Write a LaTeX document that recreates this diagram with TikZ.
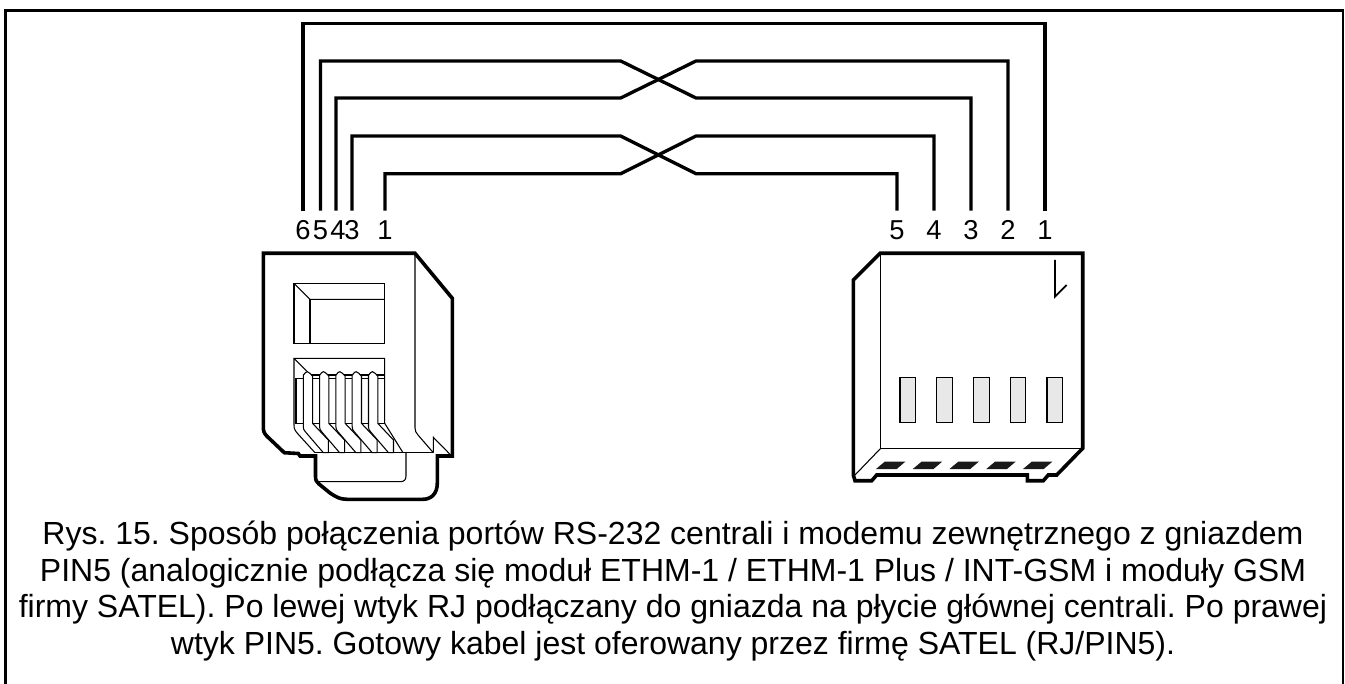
\documentclass[tikz,border=0pt]{standalone}
\usepackage{fontspec}
\setmainfont{Liberation Sans}
\usetikzlibrary{positioning}
\frenchspacing

\begin{document}
\begin{tikzpicture}
		[x=.75pt,y=-.75pt,
		wire/.style={draw,line width=2.5pt},
		frame line/.style={draw,line width=1.6pt},
		thick line/.style={draw,line width=2.7pt,line join=miter},
		thin line/.style={draw,line width=.8pt},
		pin label/.style={inner sep=0pt,text height=14.2pt,text depth=0pt,minimum height=28.5pt,font=\fontsize{20.5}{21}\selectfont},
		slot/.style={shape=rectangle,draw,line width=.8pt,fill=black!9,inner sep=0pt,minimum width=11.7pt,minimum height=33.5pt},
		caption/.style={inner sep=0pt,align=center,font=\fontsize{24}{27.5}\selectfont},
		contact/.pic={
			\draw[thin line,fill=white] (-4,55) -- (-4,3.5) .. controls (-2.5,1) and (-1,0) .. (0,0) .. controls (2,0) and (3.5,3) .. (5.3,4.5) -- (5.3,51.7) -- (21,68.3) -- (21,81) -- (16,81) -- (-2,60) .. controls (-3.5,58.5) and (-4,57) .. (-4,55) -- cycle;
		},
		pad/.pic={
			\fill[black!90] (0,7.3) -- (20.7,7.3) -- (29.3,0) -- (8.7,0) -- cycle;
		}
		]
		
		\useasboundingbox (0,0) rectangle (1345,684);
		
		\draw[frame line] (5.5,684) -- (5.5,10.5) -- (1343,10.5) -- (1343,684);
		
		\node [pin label] (l6) at (303,230) {6};
		\node [pin label] (l5) at (320.5,230) {5};
		\node [pin label] (l4) at (338,230) {4};
		\node [pin label] (l3) at (352,230) {3};
		\node [pin label] (l1) at (385,230) {1};
		
		\node [pin label] (r5) at (897,230) {5};
		\node [pin label] (r4) at (934,230) {4};
		\node [pin label] (r3) at (971,230) {3};
		\node [pin label] (r2) at (1008,230) {2};
		\node [pin label] (r1) at (1045,230) {1};
		
		\coordinate (top) at (670,23.3);
		\coordinate (a1) at (620.7,61);
		\coordinate (a2) at (696,98);
		\coordinate (b1) at (620.7,98);
		\coordinate (b2) at (696,61);
		\coordinate (c1) at (620.7,136);
		\coordinate (c2) at (696,173.7);
		\coordinate (d1) at (620.7,173.7);
		\coordinate (d2) at (696,136);
		
		\draw[wire] (l6.north) |- (top) -| (r1.north);
		\draw[wire] (l5.north) |- (a1) -- (a2) -| (r3.north);
		\draw[wire] ([xshift=-1.5pt]l4.north) |- (b1) -- (b2) -| (r2.north);
		\draw[wire] (l3.north) |- (c1) -- (c2) -| (r5.north);
		\draw[wire] (l1.north) |- (d1) -- (d2) -| (r4.north);
		
		\draw[thin line] (294,283.3) rectangle (384.7,343.3);
		\draw[thin line] (294,283.3) -- (310,299.3) -- (384.7,299.3);
		\draw[thin line] (310,299.3) -- (310,343.3);
		
		\draw[thin line] (315,452.7) -- (298,434) .. controls (295,430.5) and (294,429) .. (294,425) -- (294,358.3) -- (384.7,358.3) -- (384.7,423.3) -- (403,452.7);
		\draw[thin line] (294,358.3) -- (307,371.3);
		\draw[thin line] (296,378.3) rectangle (384.7,423.3);
		\draw[thin line] (303,375) -- (384.7,375);
		
		\pic at (307.3,371.7) {contact};
		\pic at (323.6,371.7) {contact};
		\pic at (339.9,371.7) {contact};
		\pic at (356.2,371.7) {contact};
		\pic at (372.5,371.7) {contact};
		
		\draw[thin line] (315,452.7) -- (433.3,452.7);
		\draw[thin line] (415,253.3) -- (415,428) .. controls (415,431) and (416,432.5) .. (418,435) -- (433.3,452.7);
		\draw[thin line] (433.3,452.7) -- (433.3,437.3) -- (450,454.3);
		\draw[thin line] (406,452.7) -- (406,476) .. controls (406,480) and (404,481.7) .. (400,481.7) -- (318.3,481.7);
		
		\draw[thick line] (263.3,253.3) -- (415,253.3) -- (452.3,298.3) -- (452.3,456) -- (437.3,456) -- (437.3,483) .. controls (437.3,494) and (431,499.3) .. (423,499.3) -- (346.7,499.3) .. controls (340,499.3) and (336,497) .. (330,493) -- (319,484) .. controls (316,481) and (315.5,480) .. (315.5,476) -- (315.5,456) -- (300,456) -- (298.3,453.5) -- (284.3,452.7) -- (266.7,436) .. controls (264,433) and (263.3,431) .. (263.3,426.7) -- cycle;
		
		\draw[thin line] (880.7,253.3) -- (880.7,448.3) -- (1082.7,448.3);
		\draw[thin line] (880.7,448.3) -- (855,475);
		\draw[line width=1.3pt] (1055,260) -- (1055,296.7) -- (1066.7,285);
		
		\node [slot] (s1) at (907.8,400) {};
		\node [slot] (s2) at (944.6,400) {};
		\node [slot] (s3) at (981.3,400) {};
		\node [slot] (s4) at (1018.1,400) {};
		\node [slot] (s5) at (1054.8,400) {};
		
		\pic at (876,461.7) {pad};
		\pic at (912.8,461.7) {pad};
		\pic at (949.5,461.7) {pad};
		\pic at (986.3,461.7) {pad};
		\pic at (1023,461.7) {pad};
		
		\draw[thick line] (880,253.3) -- (1082.7,253.3) -- (1082.7,448.3) -- (1056.7,475) -- (1048.3,475) -- (1043.3,480.7) -- (1027.3,480.7) -- (1027.3,475) -- (876.7,475) -- (871.7,480.7) -- (855,480.7) -- (853.3,475) -- (853.3,280) -- cycle;
		\draw[line width=.6pt,white] (858,476) -- (861,476);
		\draw[line width=.6pt,white] (1030,476) -- (1033,476);
		
		\node [caption] (text) at (673,591) {Rys. 15. Sposób połączenia portów RS-232 centrali i modemu zewnętrznego z gniazdem\\PIN5 (analogicznie podłącza się moduł ETHM-1 / ETHM-1 Plus / INT-GSM i moduły GSM\\firmy SATEL). Po lewej wtyk RJ podłączany do gniazda na płycie głównej centrali. Po prawej\\wtyk PIN5. Gotowy kabel jest oferowany przez firmę SATEL (RJ/PIN5).};
		
		\end{tikzpicture}
\end{document}
